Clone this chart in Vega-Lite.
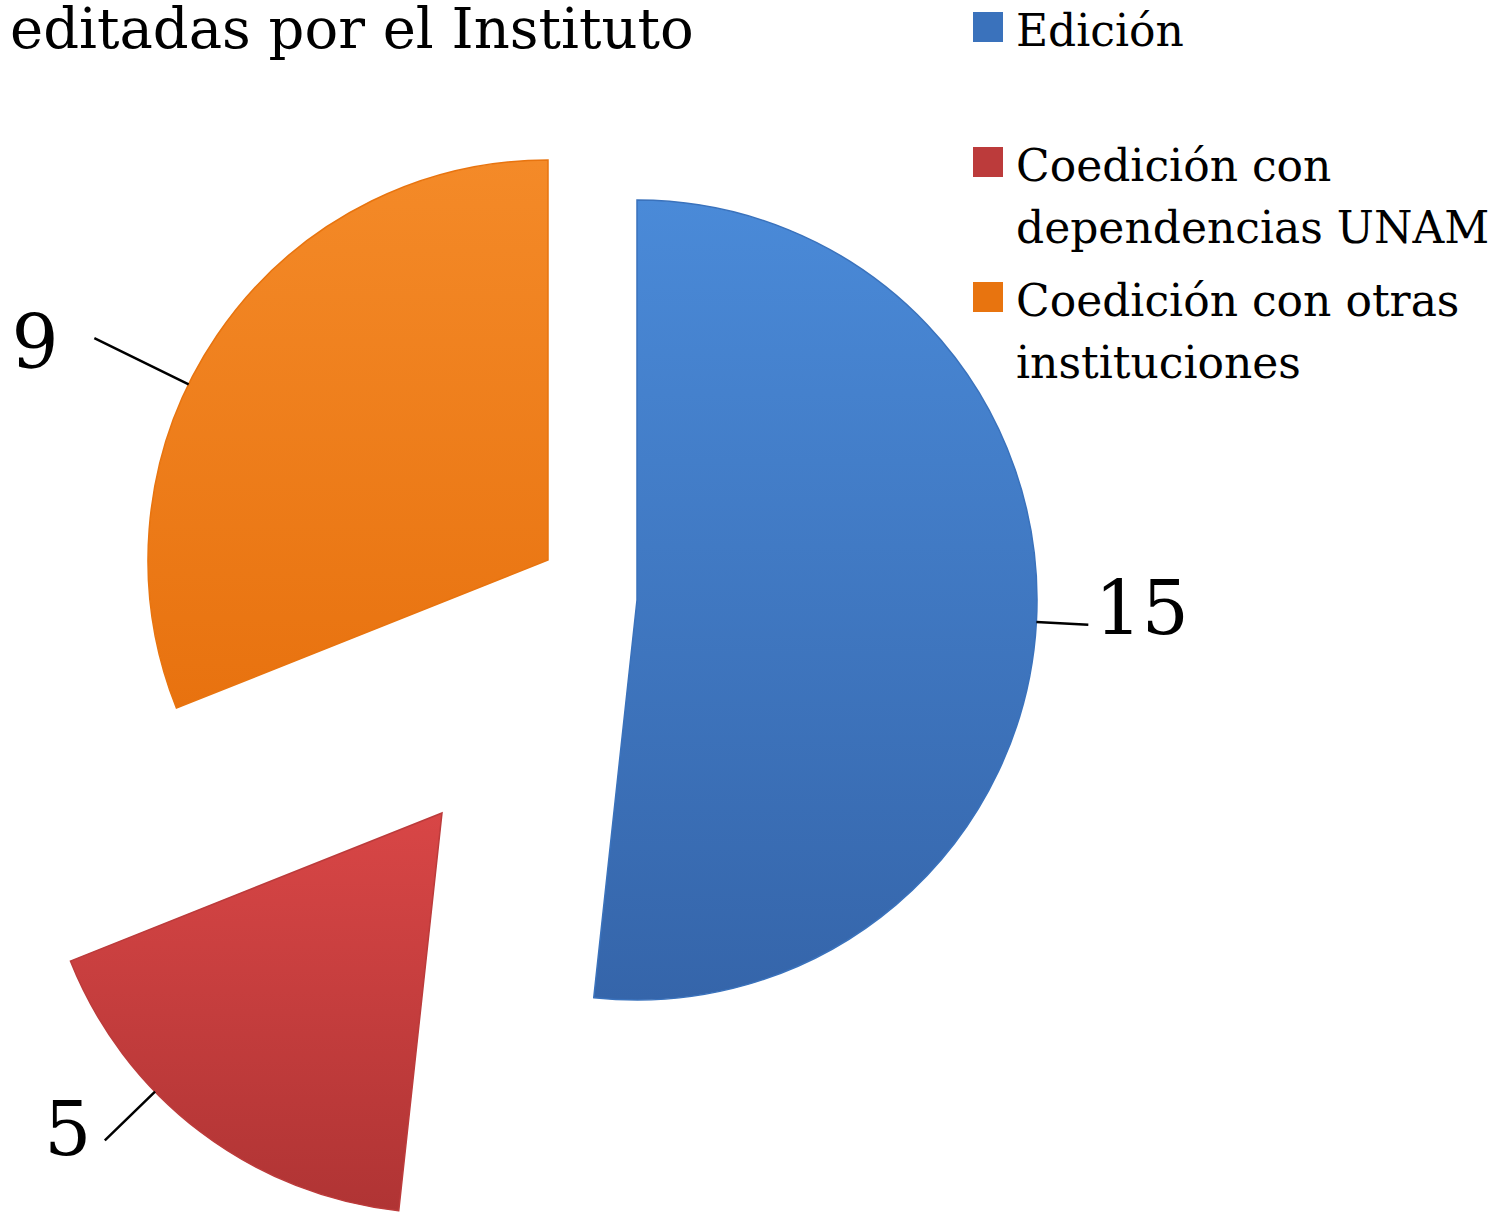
{
  "$schema": "https://vega.github.io/schema/vega-lite/v6.json",
  "width": 1510,
  "height": 1212,
  "padding": 0,
  "autosize": {"type": "none"},
  "background": "white",
  "title": {
    "text": "editadas por el Instituto",
    "anchor": "start",
    "frame": "group",
    "font": "DejaVu Serif",
    "fontSize": 56,
    "fontWeight": "normal",
    "color": "black",
    "offset": 0,
    "dx": 10,
    "dy": 60
  },
  "data": {
    "values": [
      {"categoria": "Edición", "publicaciones": 15, "orden": 1},
      {"categoria": "Coedición con dependencias UNAM", "publicaciones": 5, "orden": 2},
      {"categoria": "Coedición con otras instituciones", "publicaciones": 9, "orden": 3}
    ]
  },
  "config": {
    "view": {"stroke": null},
    "style": {"guide-label": {"lineHeight": 62, "dy": 6}}
  },
  "layer": [
    {
      "mark": {
        "type": "arc", "radius": 400, "xOffset": -118, "yOffset": -6, "strokeWidth": 1.5,
        "fill": {"gradient": "linear", "x1": 0, "y1": 0, "x2": 0, "y2": 1,
                 "stops": [{"offset": 0, "color": "#4a8ad8"}, {"offset": 1, "color": "#3565aa"}]}
      },
      "encoding": {
        "theta": {"field": "publicaciones", "type": "quantitative", "stack": true},
        "order": {"field": "orden", "type": "quantitative"},
        "stroke": {
          "field": "categoria",
          "type": "nominal",
          "scale": {
            "domain": ["Edición", "Coedición con dependencias UNAM", "Coedición con otras instituciones"],
            "range": ["#3a72bc", "#bc3b3b", "#e8740f"]
          },
          "legend": {
            "orient": "none",
            "legendX": 966,
            "legendY": 5,
            "title": null,
            "symbolType": "square",
            "symbolSize": 225,
            "symbolStrokeWidth": 15,
            "labelFont": "DejaVu Serif",
            "labelFontSize": 44,
            "labelColor": "black",
            "labelLimit": 800,
            "labelOffset": 6,
            "gridAlign": "all",
            "rowPadding": 7,
            "labelExpr": "datum.label === 'Coedición con dependencias UNAM' ? ['Coedición con', 'dependencias UNAM'] : datum.label === 'Coedición con otras instituciones' ? ['Coedición con otras', 'instituciones'] : datum.label",
            "encode": {"labels": {"enter": {"lineHeight": {"value": 62}}, "update": {"lineHeight": {"value": 62}}}}
          }
        },
        "opacity": {"condition": {"test": "datum.categoria === 'Edición'", "value": 1}, "value": 0}
      }
    },
    {
      "mark": {
        "type": "arc", "radius": 400, "xOffset": -313, "yOffset": 207, "strokeWidth": 1.5,
        "fill": {"gradient": "linear", "x1": 0, "y1": 0, "x2": 0, "y2": 1,
                 "stops": [{"offset": 0, "color": "#d84646"}, {"offset": 1, "color": "#b03434"}]}
      },
      "encoding": {
        "theta": {"field": "publicaciones", "type": "quantitative", "stack": true},
        "order": {"field": "orden", "type": "quantitative"},
        "stroke": {"field": "categoria", "type": "nominal"},
        "opacity": {"condition": {"test": "datum.categoria === 'Coedición con dependencias UNAM'", "value": 1}, "value": 0}
      }
    },
    {
      "mark": {
        "type": "arc", "radius": 400, "xOffset": -207, "yOffset": -46, "strokeWidth": 1.5,
        "fill": {"gradient": "linear", "x1": 0, "y1": 0, "x2": 0, "y2": 1,
                 "stops": [{"offset": 0, "color": "#f48a28"}, {"offset": 1, "color": "#e8720f"}]}
      },
      "encoding": {
        "theta": {"field": "publicaciones", "type": "quantitative", "stack": true},
        "order": {"field": "orden", "type": "quantitative"},
        "stroke": {"field": "categoria", "type": "nominal"},
        "opacity": {"condition": {"test": "datum.categoria === 'Coedición con otras instituciones'", "value": 1}, "value": 0}
      }
    },
    {
      "mark": {"type": "arc", "radius": 452, "radius2": 400, "padAngle": 3.14, "thetaOffset": -2.166, "filled": false, "stroke": "black", "strokeWidth": 2.5, "xOffset": -118, "yOffset": -6},
      "encoding": {
        "theta": {"field": "publicaciones", "type": "quantitative", "stack": true},
        "order": {"field": "orden", "type": "quantitative"},
        "detail": {"field": "categoria", "type": "nominal"},
        "opacity": {"condition": {"test": "datum.categoria === 'Coedición con dependencias UNAM'", "value": 1}, "value": 0}
      }
    },
    {
      "mark": {"type": "arc", "radius": 470, "radius2": 400, "padAngle": 3.14, "thetaOffset": 0.15, "filled": false, "stroke": "black", "strokeWidth": 2.5, "xOffset": -313, "yOffset": 207},
      "encoding": {
        "theta": {"field": "publicaciones", "type": "quantitative", "stack": true},
        "order": {"field": "orden", "type": "quantitative"},
        "detail": {"field": "categoria", "type": "nominal"},
        "opacity": {"condition": {"test": "datum.categoria === 'Coedición con dependencias UNAM'", "value": 1}, "value": 0}
      }
    },
    {
      "mark": {"type": "arc", "radius": 505, "radius2": 400, "padAngle": 3.14, "thetaOffset": -0.141, "filled": false, "stroke": "black", "strokeWidth": 2.5, "xOffset": -207, "yOffset": -46},
      "encoding": {
        "theta": {"field": "publicaciones", "type": "quantitative", "stack": true},
        "order": {"field": "orden", "type": "quantitative"},
        "detail": {"field": "categoria", "type": "nominal"},
        "opacity": {"condition": {"test": "datum.categoria === 'Coedición con otras instituciones'", "value": 1}, "value": 0}
      }
    },
    {
      "mark": {"type": "text", "radius": 505, "thetaOffset": -0.03, "font": "DejaVu Serif", "fontSize": 74, "fill": "black", "xOffset": -118, "yOffset": -6},
      "encoding": {
        "theta": {"field": "publicaciones", "type": "quantitative", "stack": true},
        "order": {"field": "orden", "type": "quantitative"},
        "detail": {"field": "categoria", "type": "nominal"},
        "text": {"field": "publicaciones", "type": "quantitative"},
        "opacity": {"condition": {"test": "datum.categoria === 'Edición'", "value": 1}, "value": 0}
      }
    },
    {
      "mark": {"type": "text", "radius": 492, "thetaOffset": 0.214, "font": "DejaVu Serif", "fontSize": 74, "fill": "black", "xOffset": -313, "yOffset": 207},
      "encoding": {
        "theta": {"field": "publicaciones", "type": "quantitative", "stack": true},
        "order": {"field": "orden", "type": "quantitative"},
        "detail": {"field": "categoria", "type": "nominal"},
        "text": {"field": "publicaciones", "type": "quantitative"},
        "opacity": {"condition": {"test": "datum.categoria === 'Coedición con dependencias UNAM'", "value": 1}, "value": 0}
      }
    },
    {
      "mark": {"type": "text", "radius": 556, "thetaOffset": -0.2, "font": "DejaVu Serif", "fontSize": 74, "fill": "black", "xOffset": -207, "yOffset": -46},
      "encoding": {
        "theta": {"field": "publicaciones", "type": "quantitative", "stack": true},
        "order": {"field": "orden", "type": "quantitative"},
        "detail": {"field": "categoria", "type": "nominal"},
        "text": {"field": "publicaciones", "type": "quantitative"},
        "opacity": {"condition": {"test": "datum.categoria === 'Coedición con otras instituciones'", "value": 1}, "value": 0}
      }
    }
  ]
}
